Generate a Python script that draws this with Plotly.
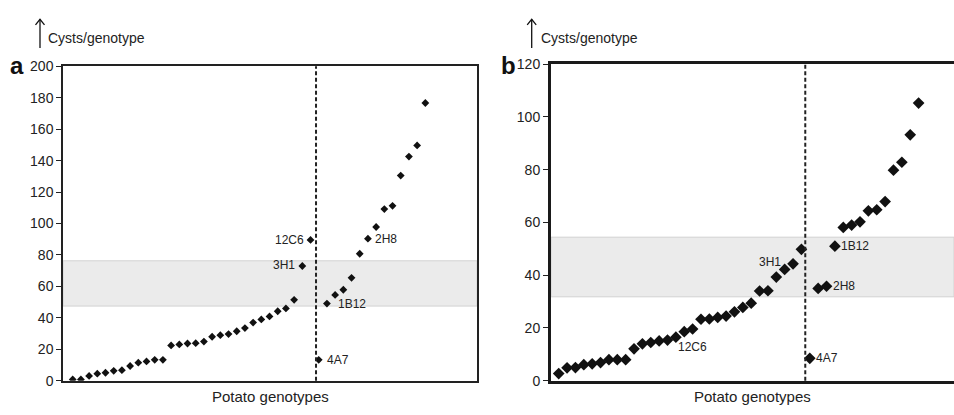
import plotly.graph_objects as go

W, H = 954, 415

# ---------------- data ----------------
a_values = [0.8, 0.8, 3.1, 4.5, 5.1, 6.3, 6.7, 9.4, 11.5, 12.3, 13.3, 13.3, 22.5, 23.1, 23.7,
            23.9, 24.9, 28.0, 29.0, 29.7, 31.5, 33.5, 37.0, 39.0, 40.9, 44.2, 46.0, 51.5, 73.0,
            89.6, 13.3, 49.1, 54.6, 57.9, 65.5, 80.8, 90.4, 97.8, 109.2, 111.3, 130.5, 142.6,
            149.7, 176.7]
b_values = [2.7, 4.9, 5.0, 6.1, 6.4, 6.9, 8.0, 8.0, 8.0, 12.1, 14.0, 14.5, 15.1, 15.4, 16.5,
            18.6, 19.6, 23.3, 23.4, 24.0, 24.5, 26.1, 27.8, 29.4, 34.0, 34.1, 39.3, 42.2, 44.3,
            49.8, 8.5, 35.0, 35.8, 51.0, 58.1, 59.0, 60.2, 64.4, 64.8, 67.9, 79.8, 82.8, 93.2,
            105.2]
a_index = list(range(len(a_values)))
b_index = list(range(len(b_values)))

# labelled genotypes: (name, index)
a_labels = [("12C6", 29), ("3H1", 28), ("2H8", 36), ("1B12", 31), ("4A7", 30)]
b_labels = [("12C6", 14), ("3H1", 28), ("2H8", 32), ("1B12", 33), ("4A7", 30)]

a_band = (47.5, 76.3)
b_band = (31.8, 54.4)
a_split = 29.67
b_split = 29.46

a_yticks = list(range(0, 201, 20))
b_yticks = list(range(0, 121, 20))

# ---------------- figure ----------------
def px(x):
    return x / W


def py(y):
    return 1 - y / H


fig = go.Figure()
fig.add_trace(go.Scatter(x=a_index, y=a_values, mode="markers",
                         marker=dict(symbol="diamond", size=6, color="#111111"),
                         xaxis="x", yaxis="y", showlegend=False, hoverinfo="skip"))
fig.add_trace(go.Scatter(x=b_index, y=b_values, mode="markers",
                         marker=dict(symbol="diamond", size=9, color="#111111"),
                         xaxis="x2", yaxis="y2", showlegend=False, hoverinfo="skip"))

FONT = "Liberation Sans, Arial, sans-serif"
tickfont = dict(family=FONT, size=14, color="#222222")

fig.update_layout(
    width=W, height=H,
    margin=dict(l=0, r=0, t=0, b=0),
    paper_bgcolor="white", plot_bgcolor="white",
    font=dict(family=FONT, color="#222222"),
    xaxis=dict(domain=[px(63), px(477)], range=[-1.183, 49.3], showline=True, mirror=True,
               linecolor="#222222", linewidth=1.5, showticklabels=False, ticks="",
               showgrid=False, zeroline=False),
    yaxis=dict(domain=[py(387.7), py(60.7)], range=[0, 200], tickvals=a_yticks,
               showline=True, mirror=True, linecolor="#222222", linewidth=1.5,
               ticks="outside", ticklen=5, tickwidth=1, tickcolor="#222222",
               tickfont=tickfont, showgrid=False, zeroline=False, anchor="x"),
    xaxis2=dict(domain=[px(551), 1.0], range=[-0.92, 47.23], showline=True, mirror=True,
                linecolor="#1a1a1a", linewidth=3, showticklabels=False, ticks="",
                showgrid=False, zeroline=False, anchor="y2"),
    yaxis2=dict(domain=[py(387.7), py(58.3)], range=[0, 120], tickvals=b_yticks,
                showline=True, mirror=False, linecolor="#1a1a1a", linewidth=3,
                ticks="outside", ticklen=5, tickwidth=1, tickcolor="#222222",
                tickfont=tickfont, showgrid=False, zeroline=False, anchor="x2"),
)

shapes = []
for xr, yr, band in (("x", "y", a_band), ("x2", "y2", b_band)):
    shapes.append(dict(type="rect", xref=xr + " domain", yref=yr, x0=0, x1=1,
                       y0=band[0], y1=band[1], fillcolor="#ebebeb",
                       line=dict(color="#d2d2d2", width=1), layer="below"))
for xr, yr, xs in (("x", "y", a_split), ("x2", "y2", b_split)):
    shapes.append(dict(type="line", xref=xr, yref=yr + " domain", x0=xs, x1=xs, y0=0, y1=1,
                       line=dict(color="#222222", width=2, dash="4px,2.5px")))

# "up" arrows next to the y-axis titles
for ax_x in (40, 531.7):
    shapes.append(dict(type="line", xref="paper", yref="paper",
                       x0=px(ax_x), x1=px(ax_x), y0=py(41.7), y1=py(11.7),
                       line=dict(color="#111111", width=1.3)))
    shapes.append(dict(type="path", xref="paper", yref="paper",
                       path=f"M {px(ax_x-4.5)},{py(17.5)} L {px(ax_x)},{py(11.7)} L {px(ax_x+4.5)},{py(17.5)}",
                       line=dict(color="#111111", width=1.3)))
fig.update_layout(shapes=shapes)

ann = []
# axis titles and panel letters
for tx, letter, lx in ((45.5, "a", 16.5), (538.5, "b", 508.5)):
    ann.append(dict(text="Cysts/genotype", x=px(tx), y=py(31.7), xref="paper", yref="paper",
                    xanchor="left", yanchor="middle", showarrow=False,
                    font=dict(family=FONT, size=14, color="#222222")))
    ann.append(dict(text=f"<b>{letter}</b>", x=px(lx), y=py(60), xref="paper", yref="paper",
                    xanchor="center", yanchor="middle", showarrow=False,
                    font=dict(family=FONT, size=24, color="#111111")))
for cx in (270, 752.5):
    ann.append(dict(text="Potato genotypes", x=px(cx), y=py(404), xref="paper", yref="paper",
                    xanchor="center", yanchor="middle", showarrow=False,
                    font=dict(family=FONT, size=15, color="#222222")))

lab_font = dict(family=FONT, size=12, color="#222222")
a_off = {"12C6": ("right", -5, 0), "3H1": ("right", -5, 1), "2H8": ("left", 5, 0),
         "1B12": ("left", 9, 0), "4A7": ("left", 6, 0)}
b_off = {"12C6": ("left", 0, -10), "3H1": ("right", -10, 2), "2H8": ("left", 4, 0),
         "1B12": ("left", 4, 0), "4A7": ("left", 4, 0)}
for labels, vals, xr, yr, offs in ((a_labels, a_values, "x", "y", a_off),
                                   (b_labels, b_values, "x2", "y2", b_off)):
    for name, i in labels:
        anchor, xs, ys = offs[name]
        ann.append(dict(text=name, x=i, y=vals[i], xref=xr, yref=yr, xanchor=anchor,
                        yanchor="middle", xshift=xs, yshift=ys, showarrow=False, font=lab_font))
fig.update_layout(annotations=ann)

fig.write_html("out.html")
